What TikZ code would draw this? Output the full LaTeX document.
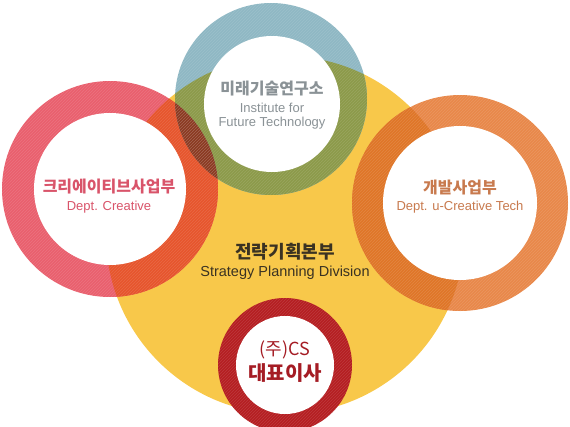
\documentclass[tikz,border=0pt]{standalone}
\usepackage{fontspec}
\usetikzlibrary{patterns}
\setmainfont{Liberation Sans}
\newfontfamily\kr{Noto Sans CJK KR}
\definecolor{yel}{HTML}{F8C84A}
\definecolor{redc}{HTML}{E9606E}
\definecolor{orc}{HTML}{E8884A}
\definecolor{blc}{HTML}{8FB8C4}
\definecolor{ry}{HTML}{E6552D}
\definecolor{oy}{HTML}{DF7628}
\definecolor{by}{HTML}{8C9A4A}
\definecolor{rb}{HTML}{83455A}
\definecolor{ob}{HTML}{83604A}
\definecolor{rby}{HTML}{8B3A22}
\definecolor{oby}{HTML}{84451F}
\definecolor{dred}{HTML}{B51F22}
\definecolor{tgray}{HTML}{8A9296}
\definecolor{tpink}{HTML}{D9546A}
\definecolor{torange}{HTML}{C87A4E}
\definecolor{tdark}{HTML}{3A3222}
\definecolor{tred}{HTML}{A51C24}
\tikzset{
  krtitle/.style={font=\kr\bfseries\fontsize{16}{18}\selectfont, inner sep=0pt},
  entext/.style={font=\fontsize{13}{15}\selectfont, inner sep=0pt},
  hatch/.style={pattern=north east lines, pattern color=white, opacity=0.12},
}
\begin{document}
\begin{tikzpicture}[x=1pt,y=-1pt]
\useasboundingbox (0,0) rectangle (570,426);
\coordinate (cy) at (285,235);
\coordinate (cr) at (110,189);
\coordinate (co) at (460,203);
\coordinate (cb) at (271,99);
\coordinate (cd) at (285,365);
\def\RY{179pt}\def\RR{108pt}\def\RO{108pt}\def\RB{96pt}\def\RD{67pt}
% base disks
\fill[yel] (cy) circle[radius=\RY];
\fill[redc] (cr) circle[radius=\RR];
\fill[orc] (co) circle[radius=\RO];
\fill[blc] (cb) circle[radius=\RB];
% overlaps with yellow
\begin{scope}
  \clip (cy) circle[radius=\RY];
  \fill[ry] (cr) circle[radius=\RR];
  \fill[oy] (co) circle[radius=\RO];
  \fill[by] (cb) circle[radius=\RB];
\end{scope}
% overlaps with blue
\begin{scope}
  \clip (cb) circle[radius=\RB];
  \fill[rb] (cr) circle[radius=\RR];
  \fill[ob] (co) circle[radius=\RO];
  \clip (cy) circle[radius=\RY];
  \fill[rby] (cr) circle[radius=\RR];
  \fill[oby] (co) circle[radius=\RO];
\end{scope}
% stripe texture on rings
\fill[hatch] (cr) circle[radius=\RR];
\fill[hatch] (co) circle[radius=\RO];
\fill[hatch] (cb) circle[radius=\RB];
% bottom ring
\fill[dred] (cd) circle[radius=\RD];
\fill[hatch] (cd) circle[radius=\RD];
% white interiors
\fill[white] (272,104) circle[radius=68pt];
\fill[white] (cr) circle[radius=76pt];
\fill[white] (co) circle[radius=77pt];
\fill[white] (cd) circle[radius=49pt];
% texts
\node[krtitle, text=tgray] (t1) at (272,89) {미래기술연구소};
\node[entext, text=tgray] (t1a) at (272,108) {Institute for};
\node[entext, text=tgray] (t1b) at (272,123) {Future Technology};
\node[krtitle, text=tpink] (t2) at (109,187) {크리에이티브사업부};
\node[entext, text=tpink] (t2a) at (109,207) {Dept. Creative};
\node[krtitle, text=torange] (t3) at (460,188) {개발사업부};
\node[entext, text=torange] (t3a) at (460,207) {Dept. u-Creative Tech};
\node[font=\kr\bfseries\fontsize{18}{20}\selectfont, inner sep=0pt, text=tdark] (t4) at (285,252) {전략기획본부};
\node[font=\fontsize{14.5}{16}\selectfont, inner sep=0pt, text=tdark] (t4a) at (285,273) {Strategy Planning Division};
\node[font=\kr\fontsize{18}{20}\selectfont, inner sep=0pt, text=tred] (t5) at (285,350) {(주)CS};
\node[font=\kr\bfseries\fontsize{20}{22}\selectfont, inner sep=0pt, text=tred] (t5a) at (285,373) {대표이사};
\end{tikzpicture}
\end{document}
